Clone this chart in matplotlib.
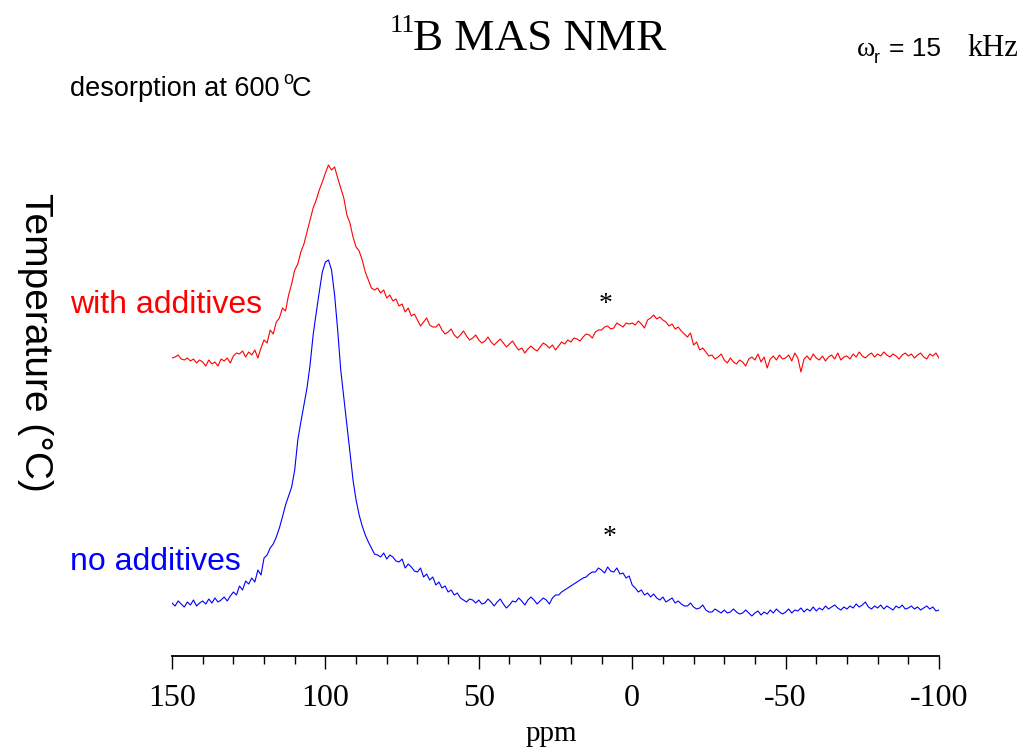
import matplotlib
matplotlib.use("Agg")
import matplotlib.pyplot as plt
import numpy as np

# chemical shift axis, 1 ppm steps from 150 down to -100
ppm = np.arange(150, -101, -1)

# intensities (height above the axis line, arbitrary units)
with_additives = [
    298, 299, 301, 297, 296, 298, 295, 297, 293, 296,
    294, 290, 296, 292, 294, 290, 297, 295, 298, 293,
    300, 303, 302, 305, 299, 304, 301, 306, 298, 308,
    316, 313, 326, 322, 334, 338, 348, 345, 361, 372,
    386, 392, 404, 412, 424, 436, 448, 456, 466, 474,
    483, 491, 486, 489, 478, 468, 458, 441, 433, 419,
    409, 405, 396, 384, 376, 368, 366, 368, 363, 366,
    358, 361, 355, 357, 350, 352, 344, 348, 340, 342,
    336, 330, 334, 338, 331, 329, 329, 332, 326, 322,
    324, 327, 321, 318, 321, 325, 320, 316, 318, 321,
    316, 313, 315, 319, 314, 311, 314, 317, 313, 309,
    312, 315, 310, 306, 308, 303, 307, 310, 307, 305,
    309, 313, 311, 308, 311, 306, 310, 314, 312, 316,
    314, 318, 317, 315, 319, 322, 321, 318, 324, 326,
    326, 329, 330, 327, 328, 333, 331, 329, 333, 332,
    333, 331, 335, 332, 328, 336, 338, 341, 337, 339,
    336, 334, 330, 332, 327, 329, 325, 322, 319, 323,
    311, 314, 306, 308, 304, 300, 301, 297, 299, 302,
    296, 293, 298, 294, 292, 296, 294, 290, 297, 299,
    296, 302, 294, 299, 288, 297, 300, 296, 301, 297,
    298, 301, 295, 303, 298, 284, 297, 300, 296, 302,
    298, 296, 300, 295, 299, 301, 297, 303, 296, 299,
    300, 297, 302, 299, 304, 300, 298, 301, 303, 299,
    302, 300, 304, 301, 299, 302, 300, 297, 301, 303,
    300, 302, 298, 301, 303, 299, 297, 302, 300, 303,
    298,
]

no_additives = [
    53, 50, 55, 52, 49, 54, 51, 56, 50, 53,
    55, 52, 57, 53, 58, 54, 56, 59, 55, 60,
    64, 61, 70, 66, 75, 72, 78, 74, 86, 81,
    98, 101, 108, 112, 119, 128, 139, 151, 160, 169,
    186, 216, 234, 251, 268, 291, 321, 343, 364, 384,
    394, 396, 386, 361, 326, 286, 258, 231, 204, 176,
    156, 141, 130, 121, 114, 108, 102, 101, 99, 103,
    97, 101, 99, 95, 94, 97, 88, 92, 89, 85,
    84, 88, 79, 82, 76, 79, 71, 74, 68, 70,
    64, 66, 61, 63, 58, 56, 54, 57, 56, 53,
    56, 52, 53, 57, 54, 50, 54, 57, 52, 48,
    51, 55, 54, 58, 55, 51, 56, 59, 56, 52,
    55, 58, 56, 52, 58, 61, 61, 64, 66, 68,
    70, 72, 74, 76, 78, 79, 82, 84, 84, 88,
    86, 83, 89, 85, 84, 88, 82, 83, 78, 80,
    71, 68, 64, 66, 61, 63, 59, 62, 58, 56,
    59, 54, 56, 58, 53, 55, 52, 50, 50, 53,
    49, 47, 48, 51, 46, 44, 44, 47, 45, 43,
    46, 43, 44, 47, 44, 42, 43, 46, 43, 40,
    43, 45, 41, 44, 42, 46, 43, 47, 44, 42,
    44, 47, 43, 46, 45, 48, 44, 47, 45, 49,
    45, 48, 46, 50, 47, 49, 51, 48, 46, 49,
    47, 50, 48, 52, 49, 51, 54, 49, 47, 50,
    48, 51, 47, 50, 48, 46, 50, 48, 51, 47,
    48, 50, 47, 49, 46, 48, 50, 47, 49, 45,
    46,
]

tick_major = [150, 100, 50, 0, -50, -100]
tick_minor = list(range(150, -101, -10))

W, H = 1034, 751
fig = plt.figure(figsize=(W / 100, H / 100), dpi=100)
ax = fig.add_axes([172 / W, 1 - 656 / H, 767 / W, 656 / H])

ax.plot(ppm, with_additives, color='red', lw=0.8)
ax.plot(ppm, no_additives, color='blue', lw=0.8)

ax.set_xlim(150, -100)
ax.set_ylim(0, 656)
for s in ['left', 'right', 'top']:
    ax.spines[s].set_visible(False)
ax.spines['bottom'].set_linewidth(1.3)
ax.set_yticks([])
ax.set_xticks(tick_major)
ax.set_xticks(tick_minor, minor=True)
ax.set_xticklabels([str(t) for t in tick_major], family='Liberation Serif', fontsize=23)
ax.tick_params(axis='x', which='major', length=9, width=1, pad=11)
ax.tick_params(axis='x', which='minor', length=6, width=1)
ax.patch.set_alpha(0)


def px(x, y):
    return x / W, 1 - y / H


serif = 'Liberation Serif'
sans = 'Liberation Sans'

fig.text(*px(551, 741), 'ppm', family=serif, fontsize=21, ha='center', va='baseline')

# title
fig.text(*px(390, 32), '11', family=serif, fontsize=19, ha='left', va='baseline')
fig.text(*px(413, 50), 'B MAS NMR', family=serif, fontsize=32.5, ha='left', va='baseline')

# spinning rate
fig.text(*px(857, 56), 'ω', family=serif, fontsize=20, ha='left', va='baseline')
fig.text(*px(874, 63), 'r', family=sans, fontsize=13, ha='left', va='baseline')
fig.text(*px(889, 56), '= 15', family=sans, fontsize=19, ha='left', va='baseline')
fig.text(*px(1018, 56), 'kHz', family=serif, fontsize=22, ha='right', va='baseline')

fig.text(*px(70, 96), 'desorption at 600', family=sans, fontsize=19.5, ha='left', va='baseline')
fig.text(*px(283, 84), 'o', family=sans, fontsize=13, ha='left', va='baseline')
fig.text(*px(292, 96), 'C', family=sans, fontsize=19.5, ha='left', va='baseline')

fig.text(*px(70, 313), 'with additives', family=sans, fontsize=23, color='red', ha='left', va='baseline')
fig.text(*px(70, 570), 'no additives', family=sans, fontsize=23, color='blue', ha='left', va='baseline')

fig.text(*px(606, 305), '*', family=serif, fontsize=20, ha='center', va='center')
fig.text(*px(610, 538), '*', family=serif, fontsize=20, ha='center', va='center')

fig.text(*px(35, 342), 'Temperature (°C)', family=sans, fontsize=28, rotation=270,
         ha='center', va='center')

fig.savefig('out.png', dpi=100)
